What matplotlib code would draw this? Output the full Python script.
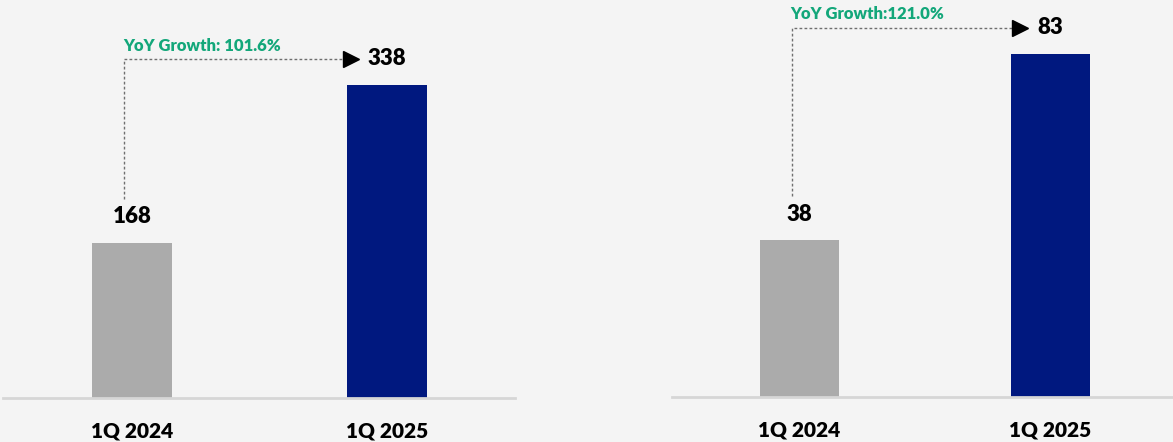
import matplotlib.pyplot as plt

plt.rcParams['font.family'] = ['Lato', 'DejaVu Sans']

# data
quarters = ['1Q 2024', '1Q 2025']
left_values = [168, 338]
right_values = [38, 83]
left_growth = 'YoY Growth: 101.6%'
right_growth = 'YoY Growth:121.0%'

bar_colors = ['#ababab', '#00187f']
green = '#13a77a'
bg = '#f4f4f4'
weight = 'heavy'

W, H = 1173, 442
fig = plt.figure(figsize=(W / 100, H / 100), dpi=100)
fig.patch.set_facecolor(bg)

# axes placement in pixels: (left, right, baseline)
panels = [
    dict(px=(3, 515, 398), xlim=(-0.506, 1.502), ytop=430,
         values=left_values, growth=left_growth),
    dict(px=(672, 1173, 397), xlim=(-0.508, 1.49), ytop=96,
         values=right_values, growth=right_growth),
]

for p in panels:
    x0, x1, base = p['px']
    ax = fig.add_axes([x0 / W, (H - base) / H, (x1 - x0) / W, base / H])
    ax.set_facecolor('none')
    vals = p['values']
    ytop = p['ytop']
    xs = list(range(len(vals)))
    ax.bar(xs, vals, width=0.314, color=bar_colors, zorder=2)
    ax.set_xlim(*p['xlim'])
    ax.set_ylim(0, ytop)

    for s in ['top', 'right', 'left']:
        ax.spines[s].set_visible(False)
    ax.spines['bottom'].set_color('#d6d6d6')
    ax.spines['bottom'].set_linewidth(2)
    ax.set_yticks([])
    ax.set_xticks(xs)
    ax.set_xticklabels(quarters, fontsize=15, fontweight=weight)
    ax.tick_params(axis='x', length=0, pad=17)

    # first value label
    ax.annotate(str(vals[0]), (xs[0], vals[0]), xytext=(0, 18.5),
                textcoords='offset points', ha='center', va='center',
                fontsize=16, fontweight=weight)

    # growth connector
    y_low = vals[0] + 0.11 * ytop
    y_high = vals[1] + 0.066 * ytop
    x_line = xs[0] - 0.03
    t_end = ax.text(xs[1], y_high, str(vals[1]), ha='center', va='center',
                    fontsize=16, fontweight=weight)
    fig.canvas.draw()
    bb = t_end.get_window_extent()
    inv = ax.transData.inverted()
    x_arrow_c = inv.transform((bb.x0 - 17, 0))[0]
    ax.plot([x_line, x_line, x_arrow_c], [y_low, y_high, y_high],
            color='#6f6f6f', lw=1, ls=(0, (2, 1.6)))
    ax.plot([x_arrow_c], [y_high], marker='>', markersize=11,
            color='black', mec='black', lw=0)
    ax.annotate(p['growth'], (x_line, y_high), xytext=(-1, 9.5),
                textcoords='offset points', ha='left', va='center',
                fontsize=12, fontweight=weight, color=green)

fig.savefig('out.png', dpi=100, facecolor=bg)
